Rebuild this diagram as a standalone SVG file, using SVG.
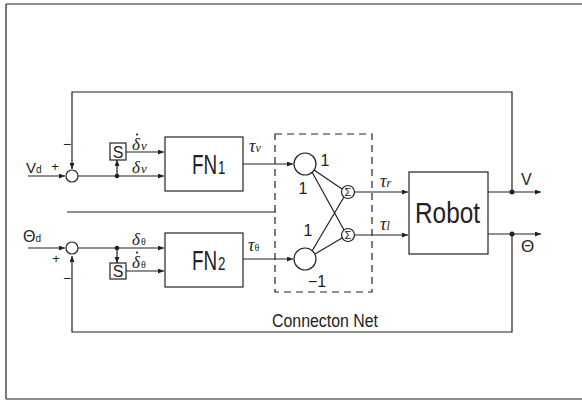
<svg xmlns="http://www.w3.org/2000/svg" width="582" height="402" viewBox="0 0 582 402">
<defs>
<marker id="arr" markerUnits="userSpaceOnUse" markerWidth="7" markerHeight="6" refX="6" refY="2.5" orient="auto">
<path d="M0,0 L6,2.5 L0,5 z" fill="#222"/>
</marker>
<style>
.ln{fill:none;stroke:#222;stroke-width:1.2}
.bx{fill:#fff;stroke:#222;stroke-width:1.2}
.t{font-family:"Liberation Sans",Arial,sans-serif;fill:#222}
.g{font-family:"Liberation Serif","DejaVu Serif",serif;font-style:italic;fill:#222}
.dot{fill:#222}
</style>
</defs>
<rect width="582" height="402" fill="#fff"/>
<g id="frame">
<path class="ln" d="M6,4 H582 M6,4 V399 M6,399 H582"/>
</g>
<g id="connectors">
<path class="ln" d="M512,192 V92 H72 V169" marker-end="url(#arr)"/>
<path class="ln" d="M512,234 V332 H72 V256" marker-end="url(#arr)"/>
<path class="ln" d="M28,176 H65" marker-end="url(#arr)"/>
<path class="ln" d="M28,248 H65" marker-end="url(#arr)"/>
<path class="ln" d="M78,176 H164" marker-end="url(#arr)"/>
<path class="ln" d="M78,248 H164" marker-end="url(#arr)"/>
<path class="ln" d="M117,176 V160" marker-end="url(#arr)"/>
<path class="ln" d="M117,248 V263" marker-end="url(#arr)"/>
<path class="ln" d="M126,152 H164" marker-end="url(#arr)"/>
<path class="ln" d="M126,271 H164" marker-end="url(#arr)"/>
<path class="ln" d="M67,212 H276"/>
<path class="ln" d="M243,164 H293" marker-end="url(#arr)"/>
<path class="ln" d="M243,259 H293" marker-end="url(#arr)"/>
<path class="ln" d="M314,170 L342,189 M312,172 L344,230 M312,251 L344,197 M315,254 L342,238"/>
<path class="ln" d="M354.5,192 H408" marker-end="url(#arr)"/>
<path class="ln" d="M354.5,235 H408" marker-end="url(#arr)"/>
<path class="ln" d="M488,192 H541" marker-end="url(#arr)"/>
<path class="ln" d="M488,234 H541" marker-end="url(#arr)"/>
<circle class="dot" cx="117" cy="176" r="2.3"/>
<circle class="dot" cx="117" cy="248" r="2.3"/>
<circle class="dot" cx="512" cy="192" r="2.5"/>
<circle class="dot" cx="512" cy="234" r="2.5"/>
</g>
<g id="sum1">
<circle class="bx" cx="72" cy="176" r="6"/>
<text class="t" x="55" y="171" font-size="13" text-anchor="middle">+</text>
<text class="t" x="67" y="149" font-size="14" text-anchor="middle">−</text>
</g>
<g id="sum2">
<circle class="bx" cx="72" cy="248" r="6"/>
<text class="t" x="56" y="263" font-size="13" text-anchor="middle">+</text>
<text class="t" x="67" y="283" font-size="14" text-anchor="middle">−</text>
</g>
<g id="inputs">
<text class="t" x="26" y="173" font-size="15">V<tspan font-size="10">d</tspan></text>
<text class="t" x="23" y="242" font-size="16">Θ<tspan font-size="10">d</tspan></text>
</g>
<g id="s1">
<rect class="bx" x="110" y="143" width="16" height="17"/>
<text class="t" x="118" y="157.5" font-size="16" text-anchor="middle">S</text>
</g>
<g id="s2">
<rect class="bx" x="110" y="263" width="16" height="16"/>
<text class="t" x="118" y="277" font-size="16" text-anchor="middle">S</text>
</g>
<g id="deltas">
<text class="g" x="132" y="150" font-size="17">δ<tspan font-size="13" dx="1">v</tspan></text>
<circle class="dot" cx="137" cy="134.5" r="1.1"/>
<text class="g" x="132" y="173" font-size="17">δ<tspan font-size="13" dx="1">v</tspan></text>
<text class="g" x="132" y="245" font-size="17">δ<tspan font-size="10" font-style="normal" dx="1">θ</tspan></text>
<text class="g" x="132" y="268" font-size="17">δ<tspan font-size="10" font-style="normal" dx="1">θ</tspan></text>
<circle class="dot" cx="137" cy="252.5" r="1.1"/>
</g>
<g id="fn1">
<rect class="bx" x="165" y="137" width="78" height="54"/>
<text class="t" transform="translate(192,174) scale(0.7,1)" font-size="27">FN<tspan font-size="19" dx="1">1</tspan></text>
</g>
<g id="fn2">
<rect class="bx" x="165" y="233" width="78" height="54"/>
<text class="t" transform="translate(192,270) scale(0.7,1)" font-size="27">FN<tspan font-size="19" dx="1">2</tspan></text>
</g>
<g id="taus">
<text class="g" x="249" y="152" font-size="18">τ<tspan font-size="12">v</tspan></text>
<text class="g" x="248" y="251" font-size="18">τ<tspan font-size="10" font-style="normal">θ</tspan></text>
<text class="g" x="380" y="187" font-size="18">τ<tspan font-size="12">r</tspan></text>
<text class="g" x="380" y="230" font-size="18">τ<tspan font-size="12">l</tspan></text>
</g>
<g id="connection-net">
<rect x="275" y="134" width="97" height="158" fill="none" stroke="#222" stroke-width="1.2" stroke-dasharray="7,5"/>
<text class="t" x="272" y="327" font-size="18" textLength="106" lengthAdjust="spacingAndGlyphs">Connecton  Net</text>
</g>
<g id="neuron1">
<circle class="bx" cx="305" cy="164" r="11"/>
<text class="t" x="325" y="166" font-size="16" text-anchor="middle">1</text>
<text class="t" x="303" y="194" font-size="16" text-anchor="middle">1</text>
</g>
<g id="neuron2">
<circle class="bx" cx="305" cy="259" r="11"/>
<text class="t" x="308" y="236" font-size="16" text-anchor="middle">1</text>
<text class="t" x="317" y="287" font-size="16" text-anchor="middle">−1</text>
</g>
<g id="sigma1">
<circle class="bx" cx="348" cy="192" r="6.5"/>
<text class="t" x="348" y="196" font-size="11" text-anchor="middle">Σ</text>
</g>
<g id="sigma2">
<circle class="bx" cx="348" cy="235" r="6.5"/>
<text class="t" x="348" y="239" font-size="11" text-anchor="middle">Σ</text>
</g>
<g id="robot">
<rect class="bx" x="409" y="172" width="79" height="82"/>
<text class="t" x="415" y="223" font-size="29" textLength="65" lengthAdjust="spacingAndGlyphs">Robot</text>
</g>
<g id="outputs">
<text class="t" x="521" y="185" font-size="16">V</text>
<text class="t" x="521" y="252" font-size="17">Θ</text>
</g>
</svg>
